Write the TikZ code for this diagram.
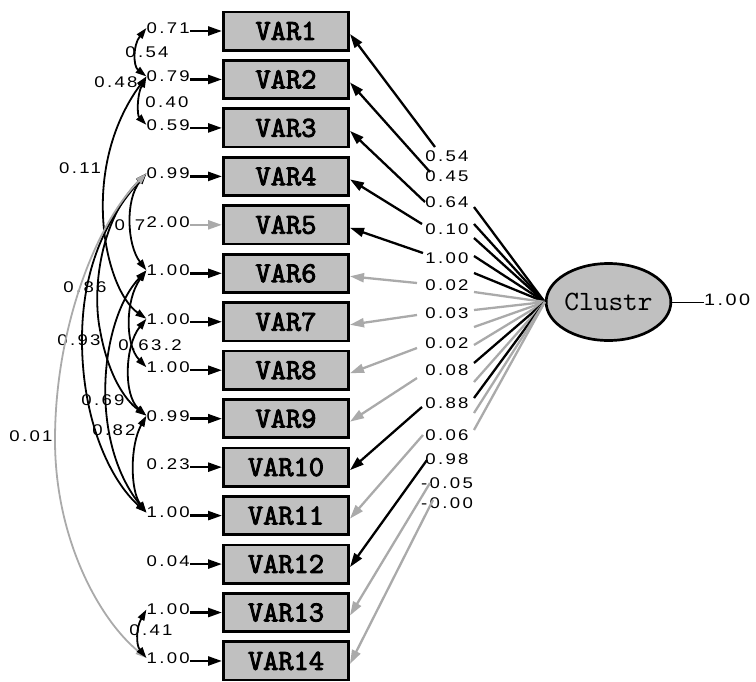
\documentclass[tikz,border=0pt]{standalone}
\usepackage{fontspec}
\usetikzlibrary{arrows.meta,shapes.geometric}
\newfontfamily\numfont[FakeStretch=1.2,LetterSpace=15]{Liberation Sans}
\newfontfamily\varfont[FakeBold=3]{lmmono10-regular.otf}
\newfontfamily\latfont{lmmono10-regular.otf}
\definecolor{boxgray}{RGB}{192,192,192}
\definecolor{nsgray}{RGB}{170,170,170}
\begin{document}
\begin{tikzpicture}[x=1pt,y=-1pt,
  obs/.style={draw, line width=2.7pt, fill=boxgray, minimum width=125.3pt,
    minimum height=38.3pt, inner sep=0pt,
    font=\varfont\fontsize{29}{29}\selectfont},
  lat/.style={ellipse, draw, line width=2.7pt, fill=boxgray, minimum width=124pt,
    minimum height=77pt, inner sep=0pt, font=\latfont\fontsize{28}{28}\selectfont},
  num/.style={inner sep=0pt, font=\numfont\fontsize{15.5}{15.5}\selectfont},
  errarr/.style={line width=2.5pt, -{Triangle[length=14pt,width=9pt]}},
  load/.style={line width=2.3pt},
  loadarr/.style={line width=2.3pt, -{Triangle[length=14pt,width=9pt]}},
  cov/.style={line width=1.8pt, {Triangle[length=11pt,width=7pt]}-{Triangle[length=11pt,width=7pt]}},
]
\useasboundingbox (0,0) rectangle (756,681);

% observed variables
\foreach \i in {1,...,14}{
  \pgfmathsetmacro\yy{31+48.46*(\i-1)}
  \node[obs] (v\i) at (286,\yy) {VAR\i};
}

% error variances
\foreach \i/\t/\c in {1/0.71/black, 2/0.79/black, 3/0.59/black, 4/0.99/black,
    5/2.00/nsgray, 6/1.00/black, 7/1.00/black, 8/1.00/black, 9/0.99/black,
    10/0.23/black, 11/1.00/black, 12/0.04/black, 13/1.00/black, 14/1.00/black}{
  \pgfmathsetmacro\yy{31+48.46*(\i-1)-3}
  \node[num, anchor=east] (e\i) at (190,\yy) {\t};
  \draw[errarr, \c] (e\i.east |- v\i.west) -- (v\i.west);
}

% latent variable
\node[lat] (cl) at (608.5,302) {Clustr};
\node[num, anchor=west, font=\numfont\fontsize{16.5}{16.5}\selectfont] (clv) at (704,300) {1.00};
\draw[line width=1pt] (cl.east) -- (clv.west |- cl.east);

% loadings: label, segment to the box, segment to the latent variable
\foreach \i/\t/\ly/\lx/\lly/\ry/\c in {
    1/0.54/156/435/147/207/black, 2/0.45/176/430/172/224/black,
    3/0.64/202/425/202/238/black, 4/0.10/229/422/224/256/black,
    5/1.00/258/423/253/273/black, 6/0.02/285/417/283/292/nsgray,
    7/0.03/313/417/315/310/nsgray, 8/0.02/343/417/348/327/nsgray,
    9/0.08/370/417/378/345/nsgray, 10/0.88/403/422/407/363/black,
    11/0.06/435/423/435/382/nsgray, 12/0.98/459/427/460/398/black,
    13/-0.05/483/430/483/413/nsgray, 14/-0.00/503/433/500/430/nsgray}{
  \node[num] (l\i) at (447,\ly) {\t};
  \coordinate (L\i) at (\lx,\lly);
  \coordinate (R\i) at (474,\ry);
  \draw[load, \c] (cl.west) -- (R\i);
  \draw[loadarr, \c] (L\i) -- ([yshift=-3pt]v\i.east);
}

% error covariances
\draw[cov] (e1.west) .. controls (133,45) and (133,66) .. (e2.west);
\node[num] (k1) at (147,52) {0.54};
\draw[cov] (e2.west) .. controls (137,95) and (137,115) .. (e3.west);
\node[num] (k2) at (167,102) {0.40};
\draw[cov] (e2.west) .. controls (78,170) and (105,290) .. (e7.west);
\node[num] (k3) at (116,82) {0.48};
\node[num] (k4) at (80,168) {0.11};
\draw[cov] (e4.west) .. controls (125,200) and (127,245) .. (e6.west);
\node[num] (k5) at (130,225) {0.7};
\draw[cov] (e4.west) .. controls (100,220) and (92,290) .. (100,330)
  .. controls (108,375) and (125,400) .. (e9.west);
\node[num] (k6) at (85,287) {0.86};
\draw[cov] (e4.west) .. controls (105,220) and (82,270) .. (82,340)
  .. controls (82,420) and (110,480) .. (e11.west);
\node[num] (k7) at (79,340) {0.93};
\draw[cov, nsgray] (e4.west) .. controls (95,225) and (55,330) .. (55,440)
  .. controls (55,540) and (100,620) .. (e14.west);
\node[num] (k8) at (31,436) {0.01};
\draw[cov] (e6.west) .. controls (125,300) and (125,345) .. (e8.west);
\draw[cov] (e7.west) .. controls (125,345) and (123,395) .. (e9.west);
\node[num] (k9) at (150,345) {0.63.2};
\draw[cov] (e6.west) .. controls (100,320) and (88,440) .. (e11.west);
\node[num] (k10) at (103,400) {0.69};
\draw[cov] (e9.west) .. controls (130,445) and (130,490) .. (e11.west);
\node[num] (k11) at (114,430) {0.82};
\draw[cov] (e13.west) .. controls (136,628) and (136,645) .. (e14.west);
\node[num] (k12) at (151,630) {0.41};
\end{tikzpicture}
\end{document}
